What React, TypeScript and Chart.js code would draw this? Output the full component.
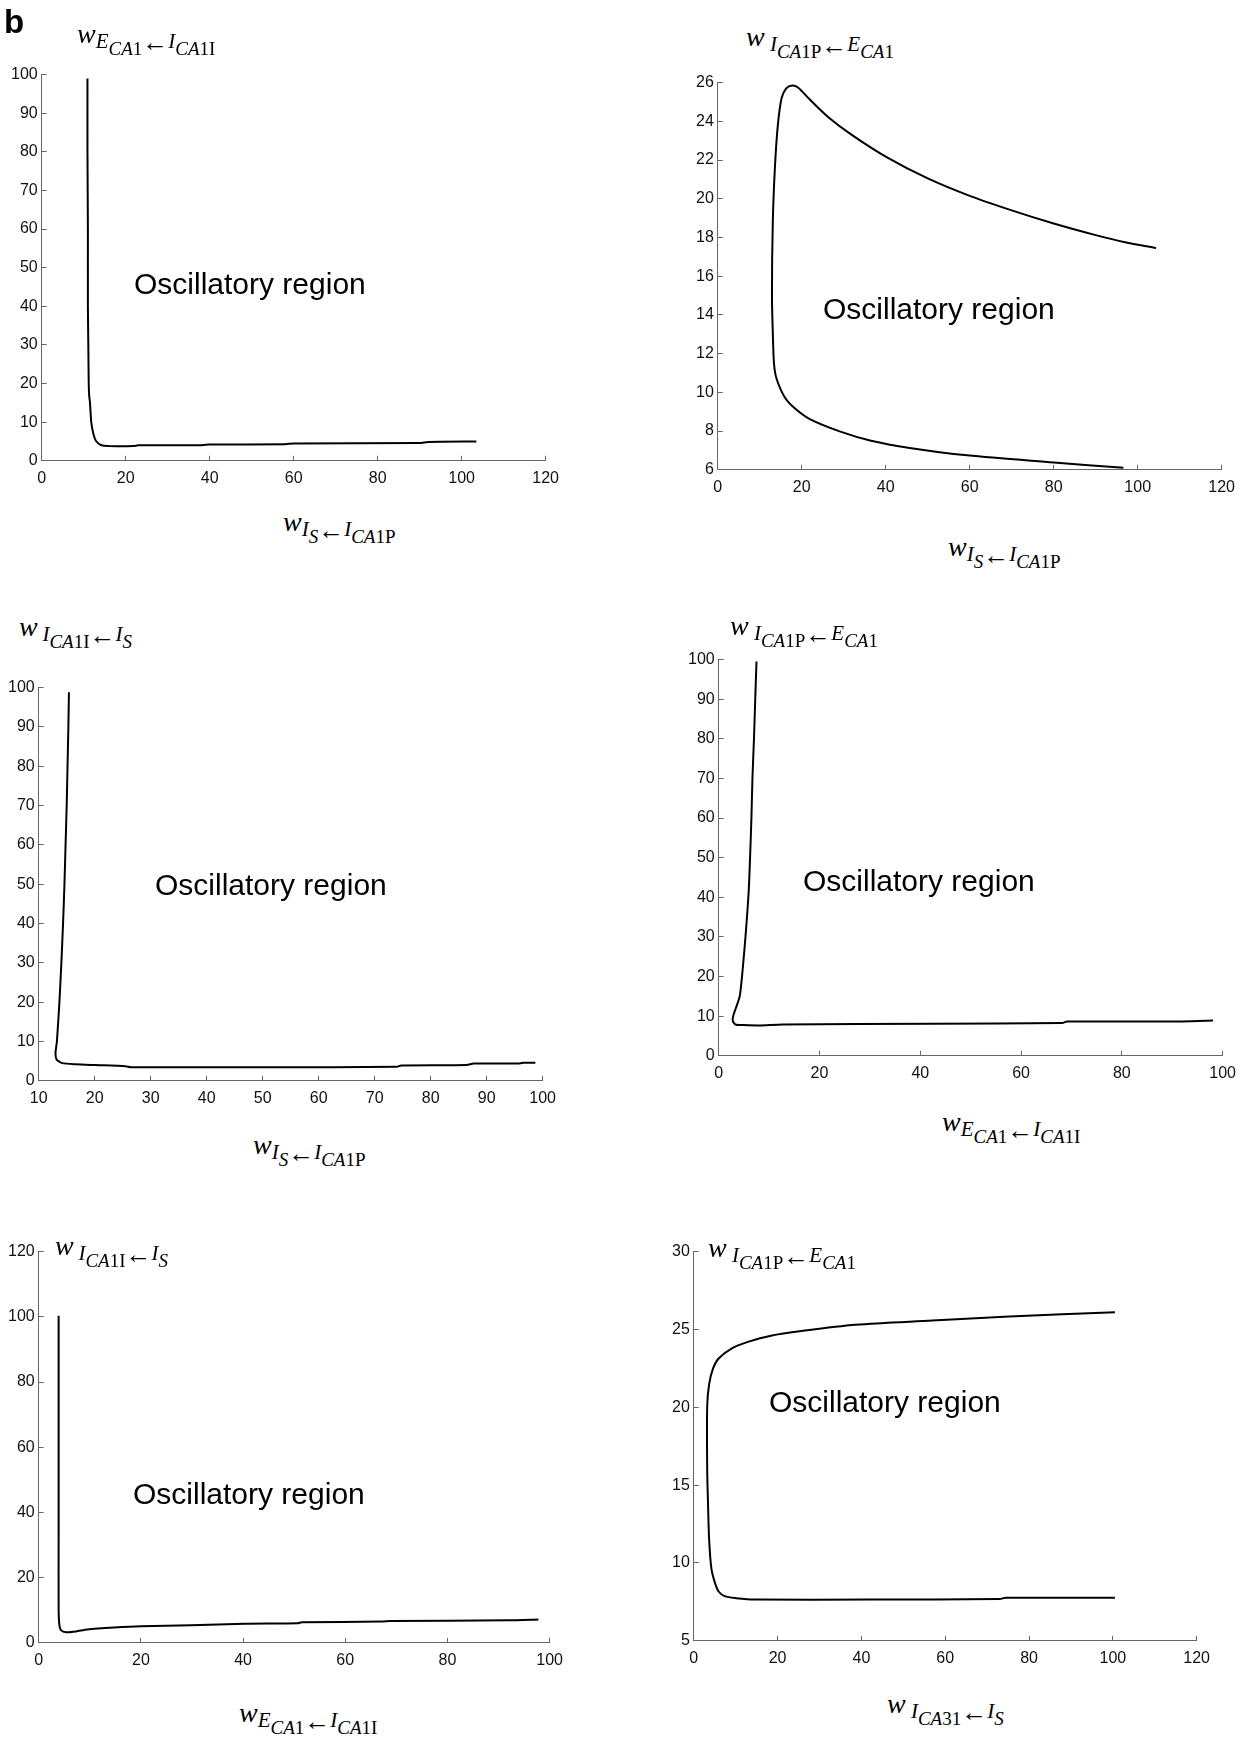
import React, { useEffect, useRef } from 'react';
import { Chart, registerables } from 'chart.js';

Chart.register(...registerables);

if (typeof document !== 'undefined') {
  document.body.style.margin = '0';
  document.body.style.background = '#ffffff';
}

const FONT_SANS = '"Liberation Sans", Arial, Helvetica, sans-serif';
const FONT_SERIF = '"Liberation Serif", "Times New Roman", serif';

// ---------- data ----------
const P1_X = [10.9, 10.9, 11.0, 11.0, 11.1, 11.2, 11.3, 11.5, 11.8, 12.3, 12.9, 14.1, 16.4, 21.8, 23, 37, 40, 58, 60, 90, 92, 103.5];
const P1_Y = [99, 80, 60, 40, 30, 20, 17, 15, 10, 7, 5.2, 4.1, 3.8, 3.8, 4.0, 4.0, 4.2, 4.3, 4.5, 4.6, 4.9, 5.0];
const P1_XTICKS = [0, 20, 40, 60, 80, 100, 120];
const P1_YTICKS = [0, 10, 20, 30, 40, 50, 60, 70, 80, 90, 100];

const P2_X = [96.6, 80, 59.4, 45.7, 36.5, 29.2, 21.8, 18.2, 15.9, 14.0, 13.4, 13.1, 12.9, 13.1, 13.6, 14.3, 15.2, 16.3, 17.7, 19.1, 21.8, 26.4, 31.9, 40.2, 50, 60, 70, 80, 90, 97, 104.4];
const P2_Y = [6.1, 6.38, 6.75, 7.13, 7.5, 7.97, 8.63, 9.2, 9.76, 10.7, 11.45, 13.1, 15, 18.8, 21.6, 23.8, 25.2, 25.7, 25.85, 25.75, 25.15, 24.2, 23.3, 22.15, 21.05, 20.15, 19.4, 18.72, 18.12, 17.75, 17.45];
const P2_XTICKS = [0, 20, 40, 60, 80, 100, 120];
const P2_YTICKS = [6, 8, 10, 12, 14, 16, 18, 20, 22, 24, 26];

const P3_X = [15.4, 15.3, 15.15, 15.0, 14.8, 14.6, 14.35, 14.05, 13.7, 13.25, 13.0, 13.2, 14.2, 16.6, 20, 25.5, 26.5, 50.8, 74, 74.7, 86.4, 87.7, 95.9, 96.6, 98.7];
const P3_Y = [98.8, 90, 80, 70, 60, 50, 40, 30, 20, 10, 7, 5.4, 4.5, 4.2, 4.0, 3.7, 3.45, 3.45, 3.55, 3.9, 4.0, 4.4, 4.4, 4.6, 4.6];
const P3_XTICKS = [10, 20, 30, 40, 50, 60, 70, 80, 90, 100];
const P3_YTICKS = [0, 10, 20, 30, 40, 50, 60, 70, 80, 90, 100];

const P4_X = [7.5, 7.25, 7.0, 6.7, 6.5, 6.26, 5.95, 5.4, 4.8, 4.2, 3.4, 2.9, 2.8, 3.3, 5.0, 8.0, 12.6, 42.4, 68.3, 69.1, 91.2, 98.1];
const P4_Y = [99.5, 90, 80, 70.2, 60.3, 51.3, 41.3, 31.4, 22.4, 15.2, 12, 10.2, 8.8, 7.9, 7.76, 7.67, 7.9, 8.1, 8.3, 8.66, 8.66, 8.9];
const P4_XTICKS = [0, 20, 40, 60, 80, 100];
const P4_YTICKS = [0, 10, 20, 30, 40, 50, 60, 70, 80, 90, 100];

const P5_X = [3.9, 3.9, 3.9, 4.05, 4.4, 5.4, 7.3, 9.5, 14.8, 20, 29.8, 40.3, 50.7, 51.5, 67.2, 68.8, 92, 97.8];
const P5_Y = [100.3, 32.5, 10.3, 5.4, 3.8, 3.25, 3.5, 4.1, 4.7, 5.1, 5.4, 5.85, 6.0, 6.3, 6.5, 6.7, 6.9, 7.15];
const P5_XTICKS = [0, 20, 40, 60, 80, 100];
const P5_YTICKS = [0, 20, 40, 60, 80, 100, 120];

const P6_X = [100.5, 74.4, 73, 42.2, 14.7, 10.1, 7.35, 5.97, 5.05, 4.2, 3.67, 3.4, 3.2, 3.2, 3.67, 4.6, 5.97, 9.2, 12.9, 18.4, 25.7, 38.6, 56.9, 75.3, 100.5];
const P6_Y = [7.76, 7.76, 7.69, 7.65, 7.65, 7.74, 7.87, 8.15, 8.72, 9.63, 11.45, 13.74, 16.0, 20.1, 21.5, 22.5, 23.15, 23.8, 24.2, 24.6, 24.9, 25.3, 25.57, 25.83, 26.1];
const P6_XTICKS = [0, 20, 40, 60, 80, 100, 120];
const P6_YTICKS = [5, 10, 15, 20, 25, 30];

const REGION_TEXT = 'Oscillatory region';
const PANEL_LETTER = 'b';

// axis-title segments: [text, level, italic]  level 0 = main, 1 = subscript, 2 = sub-subscript, 3 = arrow
type Seg = [string, number, boolean?];
const T_IS_ICA1P: Seg[] = [['w', 0, true], ['I', 1, true], ['S', 2, true], ['\u2190', 3], ['I', 1, true], ['CA', 2, true], ['1P', 2]];
const T_ECA1_ICA1I: Seg[] = [['w', 0, true], ['E', 1, true], ['CA', 2, true], ['1', 2], ['\u2190', 3], ['I', 1, true], ['CA', 2, true], ['1I', 2]];
const T_ICA1P_ECA1: Seg[] = [['w', 0, true], ['\u00A0', 1], ['I', 1, true], ['CA', 2, true], ['1P', 2], ['\u2190', 3], ['E', 1, true], ['CA', 2, true], ['1', 2]];
const T_ICA1I_IS: Seg[] = [['w', 0, true], ['\u00A0', 2], ['I', 1, true], ['CA', 2, true], ['1I', 2], ['\u2190', 3], ['I', 1, true], ['S', 2, true]];
const T_ICA31_IS: Seg[] = [['w', 0, true], ['\u00A0', 1], ['I', 1, true], ['CA', 2, true], ['31', 2], ['\u2190', 3], ['I', 1, true], ['S', 2, true]];

const LEVELS = [
  { size: 28, dy: 0 },
  { size: 21, dy: 5 },
  { size: 19, dy: 12 },
  { size: 26, dy: 8 },
];

type PanelCfg = {
  xs: number[]; ys: number[];
  xMin: number; xMax: number; yMin: number; yMax: number;
  xTicks: number[]; yTicks: number[];
  box: [number, number, number, number]; // left, top, right, bottom of plot area (page px)
  tension: number;
};

const PANELS: PanelCfg[] = [
  { xs: P1_X, ys: P1_Y, xMin: 0, xMax: 120, yMin: 0, yMax: 100, xTicks: P1_XTICKS, yTicks: P1_YTICKS, box: [42, 75, 546, 461], tension: 0.2 },
  { xs: P2_X, ys: P2_Y, xMin: 0, xMax: 120, yMin: 6, yMax: 26, xTicks: P2_XTICKS, yTicks: P2_YTICKS, box: [718, 83, 1222, 470], tension: 0.3 },
  { xs: P3_X, ys: P3_Y, xMin: 10, xMax: 100, yMin: 0, yMax: 100, xTicks: P3_XTICKS, yTicks: P3_YTICKS, box: [39, 688, 543, 1081], tension: 0.2 },
  { xs: P4_X, ys: P4_Y, xMin: 0, xMax: 100, yMin: 0, yMax: 100, xTicks: P4_XTICKS, yTicks: P4_YTICKS, box: [719, 660, 1223, 1056], tension: 0.2 },
  { xs: P5_X, ys: P5_Y, xMin: 0, xMax: 100, yMin: 0, yMax: 120, xTicks: P5_XTICKS, yTicks: P5_YTICKS, box: [39, 1252, 550, 1643], tension: 0.2 },
  { xs: P6_X, ys: P6_Y, xMin: 0, xMax: 120, yMin: 5, yMax: 30, xTicks: P6_XTICKS, yTicks: P6_YTICKS, box: [694, 1252, 1197, 1641], tension: 0.3 },
];

const TITLES: { left: number; baseline: number; segs: Seg[] }[] = [
  { left: 77, baseline: 43, segs: T_ECA1_ICA1I },
  { left: 283, baseline: 531, segs: T_IS_ICA1P },
  { left: 746, baseline: 46, segs: T_ICA1P_ECA1 },
  { left: 948, baseline: 556, segs: T_IS_ICA1P },
  { left: 19, baseline: 636, segs: T_ICA1I_IS },
  { left: 253, baseline: 1154, segs: T_IS_ICA1P },
  { left: 730, baseline: 635, segs: T_ICA1P_ECA1 },
  { left: 942, baseline: 1131, segs: T_ECA1_ICA1I },
  { left: 55, baseline: 1255, segs: T_ICA1I_IS },
  { left: 239, baseline: 1722, segs: T_ECA1_ICA1I },
  { left: 708, baseline: 1257, segs: T_ICA1P_ECA1 },
  { left: 887, baseline: 1713, segs: T_ICA31_IS },
];

const REGION_POS: [number, number][] = [
  [134, 285], [823, 310], [155, 886], [803, 882], [133, 1495], [769, 1403],
];

function axisOpts(min: number, max: number, ticks: number[], pad: number) {
  return {
    type: 'linear' as const,
    min,
    max,
    afterBuildTicks: (s: any) => {
      s.ticks = ticks.map((v) => ({ value: v }));
    },
    border: { display: true, color: '#666', width: 1 },
    grid: { display: true, drawOnChartArea: false, drawTicks: true, tickLength: -5, color: '#666', lineWidth: 1 },
    ticks: { color: '#111', padding: pad, autoSkip: false, maxRotation: 0, font: { family: FONT_SANS, size: 16 } },
  };
}

function Panel({ p }: { p: PanelCfg }) {
  const ref = useRef<HTMLCanvasElement | null>(null);
  useEffect(() => {
    const canvas = ref.current;
    if (!canvas) return;
    const chart = new Chart(canvas, {
      type: 'scatter',
      data: {
        datasets: [
          {
            data: p.xs.map((x, i) => ({ x, y: p.ys[i] })),
            showLine: true,
            borderColor: '#000',
            borderWidth: 2,
            pointRadius: 0,
            pointHoverRadius: 0,
            tension: p.tension,
            fill: false,
          },
        ],
      },
      options: {
        responsive: false,
        maintainAspectRatio: false,
        animation: false,
        events: [],
        layout: { padding: { top: 12, right: 18, bottom: 4, left: 4 } },
        plugins: { legend: { display: false }, tooltip: { enabled: false } },
        scales: {
          x: axisOpts(p.xMin, p.xMax, p.xTicks, 13),
          y: axisOpts(p.yMin, p.yMax, p.yTicks, 9),
        },
      } as any,
    });
    const tw = p.box[2] - p.box[0];
    const th = p.box[3] - p.box[1];
    for (let k = 0; k < 3; k++) {
      const a = chart.chartArea;
      const cw = a.right - a.left;
      const ch = a.bottom - a.top;
      if (Math.abs(cw - tw) < 0.5 && Math.abs(ch - th) < 0.5) break;
      chart.resize(Math.round(chart.width + tw - cw), Math.round(chart.height + th - ch));
      chart.update();
    }
    const a = chart.chartArea;
    canvas.style.left = `${p.box[0] - a.left}px`;
    canvas.style.top = `${p.box[1] - a.top}px`;
    return () => chart.destroy();
  }, [p]);
  return <canvas ref={ref} width={570} height={470} style={{ position: 'absolute', left: 0, top: 0 }} />;
}

function Title({ left, baseline, segs }: { left: number; baseline: number; segs: Seg[] }) {
  return (
    <div
      style={{
        position: 'absolute',
        left,
        top: baseline - 0.8375 * LEVELS[0].size,
        fontFamily: FONT_SERIF,
        fontSize: LEVELS[0].size,
        lineHeight: `${LEVELS[0].size}px`,
        whiteSpace: 'nowrap',
        color: '#000',
      }}
    >
      {segs.map(([t, lvl, it], i) => (
        <span
          key={i}
          style={{
            position: 'relative',
            top: LEVELS[lvl].dy,
            fontSize: LEVELS[lvl].size,
            fontStyle: it ? 'italic' : 'normal',
          }}
        >
          {t}
        </span>
      ))}
    </div>
  );
}

export default function App() {
  return (
    <div style={{ position: 'relative', width: 1244, height: 1743, background: '#fff', overflow: 'hidden' }}>
      {PANELS.map((p, i) => (
        <Panel key={i} p={p} />
      ))}
      {TITLES.map((t, i) => (
        <Title key={i} left={t.left} baseline={t.baseline} segs={t.segs} />
      ))}
      {REGION_POS.map(([x, cy], i) => (
        <div
          key={i}
          style={{
            position: 'absolute',
            left: x,
            top: cy - 16,
            fontFamily: FONT_SANS,
            fontSize: 30,
            lineHeight: '30px',
            whiteSpace: 'nowrap',
            color: '#000',
          }}
        >
          {REGION_TEXT}
        </div>
      ))}
      <div
        style={{
          position: 'absolute',
          left: 4,
          top: 5,
          fontFamily: FONT_SANS,
          fontWeight: 'bold',
          fontSize: 33,
          lineHeight: '33px',
          color: '#000',
        }}
      >
        {PANEL_LETTER}
      </div>
    </div>
  );
}
